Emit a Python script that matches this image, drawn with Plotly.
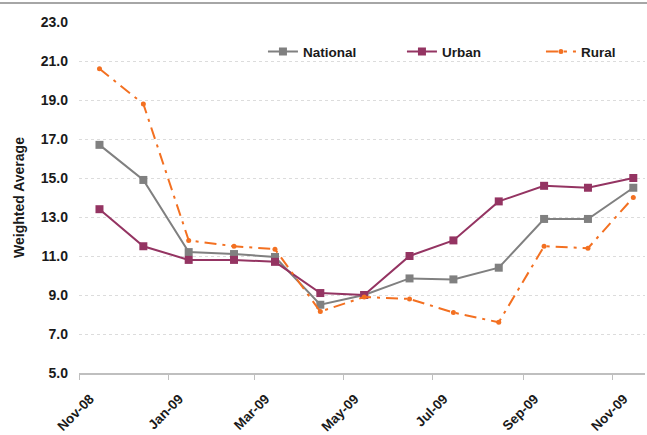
import plotly.graph_objects as go

# Monthly observations, Nov-2008 .. Nov-2009 (plotted mid-month)
months = ["2008-11-15", "2008-12-15", "2009-01-15", "2009-02-15", "2009-03-15",
          "2009-04-15", "2009-05-15", "2009-06-15", "2009-07-15", "2009-08-15",
          "2009-09-15", "2009-10-15", "2009-11-15"]

national = [16.7, 14.9, 11.2, 11.1, 10.95, 8.5, 9.0, 9.85, 9.8, 10.4, 12.9, 12.9, 14.5]
urban = [13.4, 11.5, 10.8, 10.8, 10.7, 9.1, 9.0, 11.0, 11.8, 13.8, 14.6, 14.5, 15.0]
rural = [20.6, 18.8, 11.8, 11.5, 11.35, 8.15, 8.9, 8.8, 8.1, 7.6, 11.5, 11.4, 14.0]

y_ticks = [5, 7, 9, 11, 13, 15, 17, 19, 21, 23]

FONT = "Liberation Sans, Arial, sans-serif"
TXT = "#1a1a1a"

fig = go.Figure()
fig.add_trace(go.Scatter(
    x=months, y=national, name="National", mode="lines+markers",
    line=dict(color="#808080", width=2),
    marker=dict(symbol="square", size=8, color="#808080"),
))
fig.add_trace(go.Scatter(
    x=months, y=urban, name="Urban", mode="lines+markers",
    line=dict(color="#943462", width=2),
    marker=dict(symbol="square", size=8, color="#943462"),
))
fig.add_trace(go.Scatter(
    x=months, y=rural, name="Rural", mode="lines+markers",
    line=dict(color="#f37021", width=2, dash="12px,6px,3px,6px"),
    marker=dict(symbol="circle", size=5, color="#f37021"),
))

fig.update_layout(
    width=647, height=435,
    margin=dict(l=79, r=2, t=22, b=62, autoexpand=False),
    paper_bgcolor="white", plot_bgcolor="white",
    font=dict(family=FONT, size=13, color=TXT),
    showlegend=True,
    legend=dict(
        orientation="h", x=0.325, y=0.915, xanchor="left", yanchor="middle",
        bgcolor="rgba(0,0,0,0)", entrywidth=94, entrywidthmode="pixels",
        font=dict(family=FONT, size=13.5, color=TXT, weight="bold"),
    ),
    xaxis=dict(
        type="date", range=["2008-11-01", "2009-11-23"],
        tick0="2008-11-01", dtick="M2", tickformat="%b-%y",
        tickangle=-45, ticks="outside", ticklen=5, tickcolor="#bfbfbf",
        ticklabelshift=11, ticklabelstandoff=6,
        showline=True, linecolor="#bfbfbf", linewidth=1.5,
        showgrid=False, zeroline=False,
        tickfont=dict(family=FONT, size=13.5, color=TXT, weight="bold"),
    ),
    yaxis=dict(
        range=[5, 23], tickvals=y_ticks, tickformat=".1f",
        showgrid=True, gridcolor="#dcdcdc", griddash="dot", gridwidth=1,
        showline=False, zeroline=False, ticks="", ticklabelstandoff=10,
        tickfont=dict(family=FONT, size=14, color=TXT, weight="bold"),
        title=dict(text="Weighted Average", standoff=12,
                   font=dict(family=FONT, size=14, color=TXT, weight="bold")),
    ),
    shapes=[dict(type="line", xref="paper", yref="paper", x0=-0.2, x1=1.1,
                 y0=1.054, y1=1.054, line=dict(color="#a6a6a6", width=2))],
)

fig.write_html("out.html")
